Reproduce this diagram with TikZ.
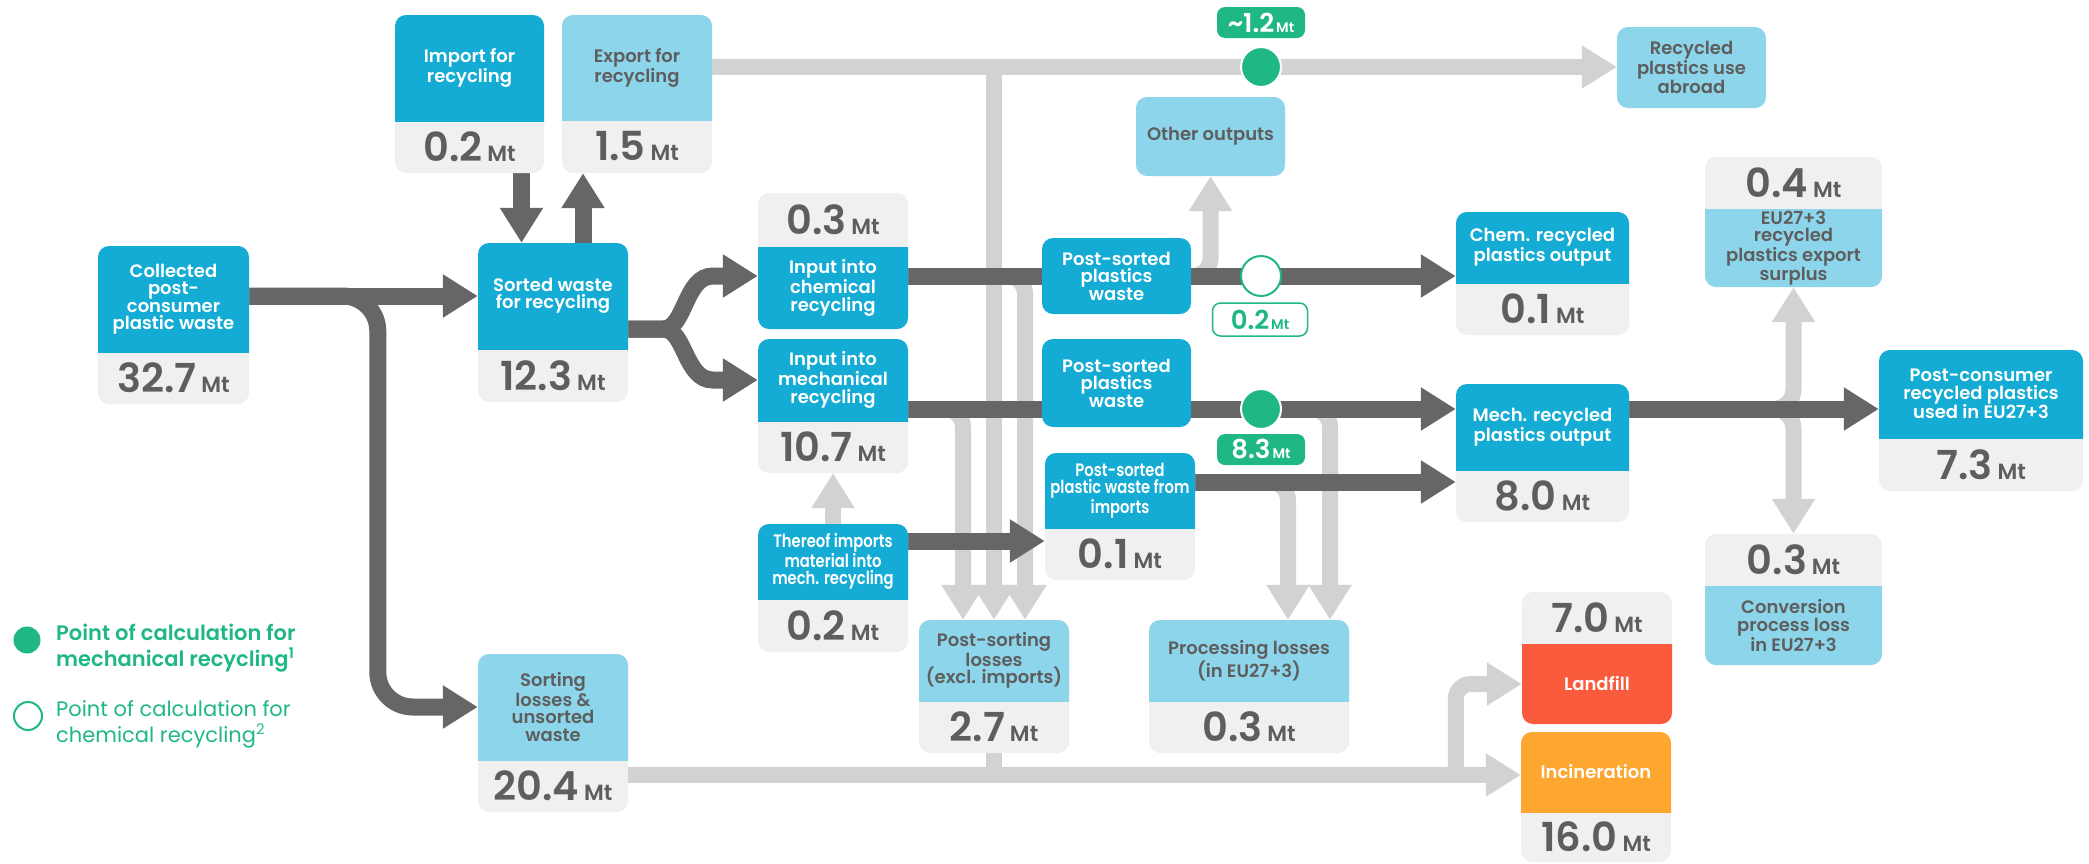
\documentclass[tikz,border=0pt]{standalone}
\usepackage{fontspec}
\setmainfont{Poppins}[BoldFont={Poppins SemiBold}]
\newfontfamily\narrowfont{Poppins}[FakeStretch=0.82, BoldFont={Poppins SemiBold}, BoldFeatures={FakeStretch=0.82}]
\usetikzlibrary{arrows.meta}
\pgfdeclarelayer{grey}
\pgfdeclarelayer{dark}
\pgfsetlayers{grey,dark,main}

\definecolor{cardblue}{HTML}{14ACD4}
\definecolor{lightblue}{HTML}{8CD5EA}
\definecolor{valbg}{HTML}{F0F0F0}
\definecolor{flowdark}{HTML}{666666}
\definecolor{flowgrey}{HTML}{D2D2D2}
\definecolor{calcgreen}{HTML}{1FB785}
\definecolor{landred}{HTML}{FA5B3D}
\definecolor{burnorange}{HTML}{FDA630}
\definecolor{textgrey}{HTML}{5E5E5E}

\newcommand\labelfont{\fontsize{18}{17.5}\selectfont\bfseries}
\newcommand\narrowlabelfont{\narrowfont\fontsize{18}{17.5}\selectfont\bfseries}
\newcommand\mtval[1]{{\fontsize{40}{40}\selectfont\bfseries #1}\hspace{5pt}{\fontsize{22}{22}\selectfont\bfseries Mt}}
\newcommand\tagval[1]{{\fontsize{26}{26}\selectfont\bfseries #1}\hspace{2pt}{\fontsize{14}{14}\selectfont\bfseries Mt}}

\newcommand\labeltop[9]{%
  \fill[valbg, rounded corners=11pt] (#2,#4) rectangle (#3,#6);
  \begin{scope}
    \clip (#2,#4) rectangle (#3,#5);
    \fill[#7, rounded corners=11pt] (#2,#4) rectangle (#3,#6);
  \end{scope}
  \node[cardtext, #7 text, minimum width={(#3-#2)*1pt}, minimum height={(#5-#4)*1pt}]
    (#1) at ({(#2+#3)/2},{(#4+#5)/2}) {#8};
  \node[cardtext, valtext, minimum width={(#3-#2)*1pt}, minimum height={(#6-#5)*1pt}]
    (#1-v) at ({(#2+#3)/2},{(#5+#6)/2}) {\mtval{#9}};
}
\newcommand\valuetop[9]{%
  \fill[valbg, rounded corners=11pt] (#2,#4) rectangle (#3,#6);
  \begin{scope}
    \clip (#2,#5) rectangle (#3,#6);
    \fill[#7, rounded corners=11pt] (#2,#4) rectangle (#3,#6);
  \end{scope}
  \node[cardtext, valtext, minimum width={(#3-#2)*1pt}, minimum height={(#5-#4)*1pt}]
    (#1-v) at ({(#2+#3)/2},{(#4+#5)/2}) {\mtval{#8}};
  \node[cardtext, #7 text, minimum width={(#3-#2)*1pt}, minimum height={(#6-#5)*1pt}]
    (#1) at ({(#2+#3)/2},{(#5+#6)/2}) {#9};
}
\newcommand\plainbox[7]{%
  \node[cardtext, #6, #6 text, rounded corners=11pt, minimum width={(#3-#2)*1pt}, minimum height={(#5-#4)*1pt}]
    (#1) at ({(#2+#3)/2},{(#4+#5)/2}) {#7};
}

\tikzset{
  darkcard/.style={fill=cardblue},
  darkcard text/.style={text=white},
  narrowcard/.style={fill=cardblue},
  narrowcard text/.style={text=white, font=\narrowlabelfont},
  lightcard/.style={fill=lightblue},
  lightcard text/.style={text=textgrey},
  landcard/.style={fill=landred},
  landcard text/.style={text=white},
  burncard/.style={fill=burnorange},
  burncard text/.style={text=white},
  cardtext/.style={inner sep=0pt, align=center, font=\labelfont},
  valtext/.style={text=textgrey, font=\labelfont},
  darkflow/.style={draw=flowdark, line width=17pt, -{Triangle[length=35pt,width=41pt]}},
  greyflow/.style={draw=flowgrey, line width=16pt, -{Triangle[length=35pt,width=41pt]}},
  greyline/.style={draw=flowgrey, line width=16pt},
  calcdot/.style={circle, fill=calcgreen, draw=white, line width=2pt, minimum size=40pt, inner sep=0pt},
  calcring/.style={circle, fill=white, draw=calcgreen, line width=2pt, minimum size=40pt, inner sep=0pt},
  calctag/.style={rounded corners=8pt, fill=calcgreen, text=white, minimum width=88pt, minimum height=31pt, inner sep=0pt},
  calctag open/.style={rounded corners=8pt, fill=white, draw=calcgreen, line width=1.5pt, text=calcgreen, minimum width=95pt, minimum height=33pt, inner sep=0pt},
  keytext/.style={anchor=west, align=left, inner sep=0pt, text=calcgreen},
}

\begin{document}
\begin{tikzpicture}[x=1pt,y=-1pt]
\useasboundingbox (0,0) rectangle (2089,863);

\labeltop{collected}{98}{249}{246}{352}{404}{darkcard}{Collected\\post-\\consumer\\plastic waste}{32.7}
\labeltop{import}{395}{544}{15}{121}{173}{darkcard}{Import for\\recycling}{0.2}
\labeltop{export}{562}{712}{15}{120}{173}{lightcard}{Export for\\recycling}{1.5}
\labeltop{sorted}{478}{628}{243}{349}{402}{darkcard}{Sorted waste\\for recycling}{12.3}
\labeltop{losses}{478}{628}{654}{760}{812}{lightcard}{Sorting\\losses \&\\unsorted\\waste}{20.4}
\valuetop{chemin}{758}{908}{193}{247}{329}{darkcard}{0.3}{Input into\\chemical\\recycling}
\labeltop{mechin}{758}{908}{339}{421}{473}{darkcard}{Input into\\mechanical\\recycling}{10.7}
\labeltop{thereof}{758}{908}{524}{599}{652}{narrowcard}{Thereof imports\\material into\\mech. recycling}{0.2}
\plainbox{ps1}{1042}{1191}{238}{314}{darkcard}{Post-sorted\\plastics\\waste}
\plainbox{ps2}{1042}{1191}{339}{427}{darkcard}{Post-sorted\\plastics\\waste}
\labeltop{psimp}{1045}{1195}{453}{528}{580}{narrowcard}{Post-sorted\\plastic waste from\\imports}{0.1}
\labeltop{psl}{919}{1069}{620}{701}{753}{lightcard}{Post-sorting\\losses\\(excl. imports)}{2.7}
\labeltop{proc}{1149}{1349}{620}{701}{753}{lightcard}{Processing losses\\(in EU27+3)}{0.3}
\plainbox{other}{1136}{1285}{97}{176}{lightcard}{Other outputs}
\plainbox{abroad}{1617}{1766}{27}{108}{lightcard}{Recycled\\plastics use\\abroad}
\labeltop{chemout}{1456}{1629}{212}{283}{335}{darkcard}{Chem. recycled\\plastics output}{0.1}
\labeltop{mechout}{1456}{1629}{384}{470}{522}{darkcard}{Mech. recycled\\plastics output}{8.0}
\valuetop{surplus}{1705}{1882}{157}{209}{287}{lightcard}{0.4}{EU27+3\\recycled\\plastics export\\surplus}
\valuetop{conv}{1705}{1882}{534}{586}{665}{lightcard}{0.3}{Conversion\\process loss\\in EU27+3}
\labeltop{pcons}{1879}{2083}{350}{438}{491}{darkcard}{Post-consumer\\recycled plastics\\used in EU27+3}{7.3}
\valuetop{landfill}{1522}{1672}{592}{644}{724}{landcard}{7.0}{Landfill}
\labeltop{incin}{1521}{1671}{732}{812}{862}{burncard}{Incineration}{16.0}

\coordinate (topy) at (0,67);
\coordinate (chemy) at (0,276);
\coordinate (forky) at (0,329);
\coordinate (mechy) at (0,409);
\coordinate (impy) at (0,482);
\coordinate (thry) at (0,541);
\coordinate (boty) at (0,775);

\node[calcdot] (dottop) at (1261,67) {};
\node[calcring] (dotchem) at (1261,276) {};
\node[calcdot] (dotmech) at (1261,409) {};
\node[calctag] (tagtop) at (1261,22.5) {\tagval{\textasciitilde1.2}};
\node[calctag open] (tagchem) at (1260,319.5) {\tagval{0.2}};
\node[calctag] (tagmech) at (1261,449.5) {\tagval{8.3}};

\node[calcdot, draw=none, minimum size=27pt] (keymech) at (27,640) {};
\node[keytext, font=\fontsize{21}{26}\selectfont\bfseries] (keymechtext) at (56,648) {Point of calculation for\\mechanical recycling\textsuperscript{1}};
\node[calcring, minimum size=28pt] (keychem) at (28,716) {};
\node[keytext, font=\fontsize{21}{26}\selectfont] (keychemtext) at (56,724) {Point of calculation for\\chemical recycling\textsuperscript{2}};

\begin{pgfonlayer}{grey}
\draw[greyflow] (export.east |- topy) -- (abroad.west |- topy);
\draw[greyflow] (psl.north |- topy) -- (psl.north);
\draw[greyflow, rounded corners=18pt] (chemin.east |- chemy) -| ([xshift=31pt]psl.north);
\draw[greyflow, rounded corners=18pt] (mechin.east |- mechy) -| ([xshift=-31pt]psl.north);
\draw[greyline] (psl-v.south) -- (psl-v.south |- boty);
\draw[greyflow] (losses-v.east |- boty) -- (incin.west |- boty);
\draw[greyflow, rounded corners=15pt] ([xshift=-65pt]incin.west |- boty) |- (landfill.west);
\draw[greyflow, rounded corners=18pt] (ps1.east |- chemy) -| (other.south);
\draw[greyflow] (thereof.north) -- (mechin-v.south);
\draw[greyflow, rounded corners=18pt] (psimp.east |- impy) -| ([xshift=39pt]proc.north);
\draw[greyflow, rounded corners=18pt] (ps2.east |- mechy) -| ([xshift=81pt]proc.north);
\draw[greyflow, rounded corners=20pt] (mechout.east |- mechy) -| (surplus.south);
\draw[greyflow, rounded corners=20pt] (mechout.east |- mechy) -| (conv-v.north);
\end{pgfonlayer}

\begin{pgfonlayer}{dark}
\draw[darkflow] (collected.east |- sorted.west) -- (sorted.west);
\draw[darkflow, rounded corners=35pt] (collected.east |- sorted.west) -| ([xshift=-100pt]losses.west) -- (losses.west);
\draw[darkflow] (sorted.east |- forky) -- ([xshift=35pt]sorted.east |- forky) .. controls +(22,0) and +(-28,0) .. ([xshift=-45pt]chemin.west |- chemy) -- (chemin.west |- chemy);
\draw[darkflow] (sorted.east |- forky) -- ([xshift=35pt]sorted.east |- forky) .. controls +(22,0) and +(-28,0) .. ([xshift=-45pt]mechin.west) -- (mechin.west);
\draw[darkflow] ([xshift=52pt]import-v.south) -- ([xshift=52pt]import-v.south |- sorted.north);
\draw[darkflow] ([xshift=-54pt]export-v.south |- sorted.north) -- ([xshift=-54pt]export-v.south);
\draw[darkflow] (chemin.east |- chemy) -- (chemout.west |- chemy);
\draw[darkflow] (mechin.east |- mechy) -- (mechout.west |- mechy);
\draw[darkflow] (thereof.east |- thry) -- (psimp-v.west |- thry);
\draw[darkflow] (psimp.east |- impy) -- (mechout-v.west |- impy);
\draw[darkflow] (mechout.east |- mechy) -- (pcons.west |- mechy);
\end{pgfonlayer}
\end{tikzpicture}
\end{document}
